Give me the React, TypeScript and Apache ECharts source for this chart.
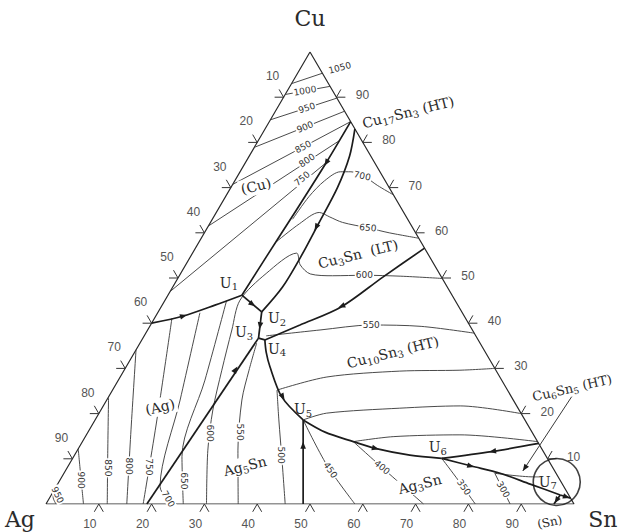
import { useEffect, useRef } from "react";
import * as echarts from "echarts";

type P = [number, number]; // [Sn at.%, Cu at.%]

// ---------- invariant points ----------
const U1: P = [14.0, 46.2];
const U2: P = [19.6, 42.5];
const U3: P = [21.9, 36.7];
const U4: P = [23.3, 36.3];
const U5: P = [39.4, 18.6];
const U6: P = [69.9, 10.1];
const U7: P = [96.4, 2.0];

// ---------- univariant (bold) lines ----------
const valleyAgCu: P[] = [[0, 40], [5.2, 41.6], [10, 44], U1];
const valleyCuBeta: P[] = [[15.4, 84.6], [15.3, 75], [14.9, 65], [14.4, 55], U1];
const valleyBetaEps: P[] = [[17, 83], [19, 77], [20.2, 70], [20.6, 62], [20.9, 55], [20.8, 48], U2];
const lineU1U2: P[] = [U1, U2];
const lineU2U3: P[] = [U2, U3];
const lineU3U4: P[] = [U3, U4];
const valleyAgZeta: P[] = [[19.1, 0], U3];
const valleyU4Edge: P[] = [U4, [28.3, 39.6], [34.1, 43.6], [38.7, 50.2], [43.4, 56.6]];
const valleyU4U5: P[] = [U4, [24.9, 33.6], [27.2, 30.4], [32.8, 23.7], U5];
const valleyU5Base: P[] = [U5, [48.7, 0]];
const valleyU5U6: P[] = [U5, [44.9, 15.9], [51.3, 13.8], [56.2, 12.3], [63.5, 10.8], U6];
const valleyEdgeU6: P[] = [[86.6, 13.4], [78.6, 11.6], U6];
const valleyU6U7: P[] = [U6, [76.4, 8.4], [82.6, 6.8], [89.5, 4.4], U7];
const valleyU7Edge: P[] = [U7, [98.7, 1.3]];
const valleyU7Base: P[] = [U7, [96.2, 0]];

// ---------- isotherms (thin) ----------
const iso1050Cu: P[] = [[0, 93], [4.7, 95.3]];
const iso1000Cu: P[] = [[0, 90.6], [7.6, 92.4]];
const iso950Cu: P[] = [[0, 85], [10.2, 89.8]];
const iso900Cu: P[] = [[0, 78.9], [13.1, 86.9]];
const iso850Cu: P[] = [[0, 70.7], [15.4, 84.6]];
const iso800Cu: P[] = [[0, 61.5], [15.3, 80.3]];
const iso750Cu: P[] = [[0, 47], [15.3, 75.5]];
const iso700: P[] = [[15.2, 63], [15.8, 68], [17, 71.5], [19, 73.5], [21, 73.5], [24, 72.5], [27.5, 70.5], [31.6, 68.4]];
const iso650: P[] = [[14.6, 58], [17, 62], [19.5, 64.5], [22, 63.5], [25, 62.3], [30.4, 61.1], [35, 60], [41.2, 58.8]];
const iso600: P[] = [[30.4, 0], [24.7, 11.9], [21.2, 20.8], [18.5, 29.6], [15.95, 38.5], [14.2, 45.1], [16.2, 51], [19.7, 55.5], [21.7, 52.9], [24.6, 50.9], [29, 50.5], [35, 50.6], [42, 50.4], [50.1, 49.9]];
const iso650Ag: P[] = [[26, 0], [20.5, 10.5], [16.4, 27.4], [11.7, 45]];
const iso700Ag: P[] = [[23.8, 0], [19.7, 3.8], [13.9, 23], [8, 42.3]];
const iso750Ag: P[] = [[18.4, 0], [11.7, 18.6], [3.3, 41.1]];
const iso800Ag: P[] = [[15.3, 0], [7.9, 16.4], [0, 34.1]];
const iso850Ag: P[] = [[11.6, 0], [5.75, 11.9], [0, 23.7]];
const iso900Ag: P[] = [[7.1, 0], [3.6, 6], [0, 12.2]];
const iso950Ag: P[] = [[1.9, 0], [0.6, 1.5], [0, 3.1]];
const iso550a: P[] = [[36.4, 0], [30.4, 11.9], [25.6, 23], [23.65, 29.6], [22.1, 35.6]];
const iso550b: P[] = [[23.1, 37.2], [32.65, 38.5], [41.8, 39.6], [51.4, 39.3], [62.2, 37.8]];
const iso500a: P[] = [[45.3, 0], [39.85, 9.7], [34.8, 18.6], [31.15, 25.2]];
const iso500b: P[] = [[31.15, 25.2], [39.15, 28.1], [52.3, 29.4], [63.6, 29.6], [70, 30]];
const iso450a: P[] = [[58.5, 0], [48.9, 8.6], [39.4, 18.6]];
const iso450b: P[] = [[39.4, 18.6], [43.1, 20.1], [56.4, 21.2], [67.6, 21.7], [80, 20]];
const iso400a: P[] = [[71.5, 0], [60.45, 7.5], [51.3, 13.8]];
const iso400b: P[] = [[51.3, 13.8], [58.3, 14.9], [70.75, 15.3], [86.2, 13.8]];
const iso350: P[] = [[81.3, 0], [75.4, 5.3], [69.9, 10.1]];
const iso300a: P[] = [[87.9, 0], [81.6, 6.8]];
const iso300b: P[] = [[81.6, 6.8], [89.3, 6], [90.6, 6]];

const boldLines: P[][] = [valleyAgCu, valleyCuBeta, valleyBetaEps, lineU1U2, lineU2U3, lineU3U4, valleyAgZeta,
  valleyU4Edge, valleyU4U5, valleyU5Base, valleyU5U6, valleyEdgeU6, valleyU6U7, valleyU7Edge, valleyU7Base];
const thinLines: P[][] = [iso1050Cu, iso1000Cu, iso950Cu, iso900Cu, iso850Cu, iso800Cu, iso750Cu, iso700, iso650, iso600,
  iso650Ag, iso700Ag, iso750Ag, iso800Ag, iso850Ag, iso900Ag, iso950Ag, iso550a, iso550b, iso500a, iso500b,
  iso450a, iso450b, iso400a, iso400b, iso350, iso300a, iso300b];

const triangle: P[] = [[0, 0], [100, 0], [0, 100], [0, 0]];
const pointerCu6Sn5: P[] = [[87.7, 23.9], [86.65, 7.3]];
const circleU7: P = [94.3, 4.87];

// arrows: [from, to] (head at middle, pointing to "to")
const arrows: [P, P][] = [
  [[4.5, 41.3], [6, 41.9]],
  [[15.35, 77], [15.3, 74]],
  [[20.5, 62.5], [20.6, 60]],
  [[16.5, 44.5], [17.5, 43.9]],
  [[20.6, 40], [21, 38.9]],
  [[20.95, 28], [21.1, 31.5]],
  [[34.8, 44.2], [33.4, 43.3]],
  [[32.5, 24.2], [33.5, 23.2]],
  [[42.7, 12], [41.7, 14]],
  [[55.5, 12.5], [57, 12.1]],
  [[79.5, 11.8], [78, 11.5]],
  [[75.5, 8.6], [77, 8.2]],
  [[97.4, 1.7], [98.2, 1.45]],
  [[96.3, 1.2], [96.25, 0.4]],
];
const pointerHeads: [P, P][] = [[[87.2, 15], [86.65, 7.3]]];

// ---------- ticks ----------
const TICKS = [10, 20, 30, 40, 50, 60, 70, 80, 90];
const EDGES = [0, 1, 2]; // 0: Sn (bottom), 1: Ag (left), 2: Cu (right)

// ---------- labels ----------
const isoLabels: [string, number, number, number][] = [
  ["1050", 7.4, 96.5, 15], ["1000", 3.35, 91.4, 10], ["950", 5.6, 87.6, 18], ["900", 7.35, 83.4, 22],
  ["850", 9.2, 79.0, 28], ["800", 11.4, 76.0, 34], ["750", 12.5, 72.0, 40],
  ["700", 23.6, 72.6, -12], ["650", 30.4, 61.1, -5], ["600", 35, 50.6, 0], ["550", 41.8, 39.6, 0],
  ["950", 1.2, 2.0, -65], ["900", 3.9, 5.3, -90], ["850", 7.7, 8.0, -90], ["800", 11.5, 8.4, -90], ["750", 15.4, 8.2, -90],
  ["700", 22.6, 1.1, -60], ["650", 23.5, 5.1, -90], ["600", 23.2, 15.7, -90], ["550", 28.7, 15.9, -90], ["500", 39.2, 10.8, -90],
  ["450", 50.1, 7.5, -55], ["400", 59.6, 8.1, -40], ["350", 77.3, 3.7, -55], ["300", 85, 3.2, -60],
];
const uLabels: [string, number, number][] = [
  ["U_1", 10.2, 48.9], ["U_2", 23.2, 41.15], ["U_3", 18.5, 38.05], ["U_4", 26.6, 34.3],
  ["U_5", 38.2, 21.0], ["U_6", 67.9, 12.6], ["U_7", 92.6, 4.9],
];
const phaseLabels: [string, number, number, number][] = [
  ["(Cu)", 4.6, 70.35, 14], ["Cu_3Sn  (LT)", 31.45, 55.3, 14], ["Cu_10Sn_3 (HT)", 48.9, 33.6, 14],
  ["(Ag)", 10.85, 21.5, 14], ["Ag_5Sn", 33.5, 8.4, 14], ["Ag_3Sn", 68.6, 4.4, 14],
  ["Cu_17Sn_3 (HT)", 25.25, 86.7, 14], ["Cu_6Sn_5 (HT)", 86.8, 25.7, 13], ["(Sn)", 97.4, -4.0, 12],
];
const elementLabels: [string, number, number][] = [["Cu", -3.75, 107.5], ["Ag", -3.2, -3.5], ["Sn", 107.2, -3.5]];

const SERIF = "'DejaVu Serif', 'Liberation Serif', serif";
const toXY = (p: P): [number, number] => [p[0] + p[1] / 2, p[1]];

const richText = (t: string) =>
  t.split(/(_\d+)/).filter(Boolean).map((s) => (s[0] === "_" ? `{s|${s.slice(1)}}` : `{n|${s}}`)).join("");
const richStyle = (size: number) => ({
  n: { fontSize: size, fontFamily: SERIF, fill: "#2b2b2b", lineHeight: size + 4, verticalAlign: "middle" },
  s: { fontSize: Math.round(size * 0.7), fontFamily: SERIF, fill: "#2b2b2b", lineHeight: size + 4, verticalAlign: "bottom" },
});

function lineSeries(pts: P[], bold: boolean) {
  return {
    type: "line", data: pts.map(toXY), symbol: "none", silent: true, animation: false,
    smooth: pts.length > 2 ? 0.3 : false, z: bold ? 4 : 3,
    lineStyle: { color: bold ? "#1c1c1c" : "#404040", width: bold ? 1.7 : 0.95 },
  };
}

function textSeries(items: any[], build: (it: any) => any, z = 10) {
  return {
    type: "custom", coordinateSystem: "cartesian2d", clip: false, silent: true, z,
    data: items.map((it) => toXY([it[1], it[2]])),
    renderItem: (params: any, api: any) => {
      const it = items[params.dataIndex];
      const c = api.coord([api.value(0), api.value(1)]);
      return { type: "text", x: c[0], y: c[1], rotation: ((it[3] as number) || 0) * Math.PI / 180, style: build(it) };
    },
  };
}

function headShape(a: number[], b: number[], atTip: boolean) {
  const dx = b[0] - a[0], dy = b[1] - a[1];
  const L = Math.hypot(dx, dy) || 1;
  const ux = dx / L, uy = dy / L, len = 7, w = 2.8;
  const tip = atTip ? [b[0], b[1]] : [(a[0] + b[0]) / 2 + ux * len / 2, (a[1] + b[1]) / 2 + uy * len / 2];
  const base = [tip[0] - ux * len, tip[1] - uy * len];
  return [tip, [base[0] - uy * w, base[1] + ux * w], [base[0] + uy * w, base[1] - ux * w]];
}

function arrowSeries(list: [P, P][], atTip: boolean) {
  return {
    type: "custom", coordinateSystem: "cartesian2d", clip: false, silent: true, z: 6,
    data: list.map(([a, b]) => [...toXY(a), ...toXY(b)]),
    renderItem: (_p: any, api: any) => {
      const a = api.coord([api.value(0), api.value(1)]);
      const b = api.coord([api.value(2), api.value(3)]);
      return { type: "polygon", shape: { points: headShape(a, b, atTip) }, style: { fill: "#1c1c1c" } };
    },
  };
}

const tickData = EDGES.flatMap((e) => TICKS.map((v) => [e, v]));
const tickSeries = {
  type: "custom", coordinateSystem: "cartesian2d", clip: false, silent: true, z: 5,
  data: tickData,
  renderItem: (params: any, api: any) => {
    const [e, v] = tickData[params.dataIndex];
    const comp: P = e === 0 ? [v, 0] : e === 1 ? [0, 100 - v] : [100 - v, v];
    const [px, py] = api.coord(toXY(comp));
    const L = 9, c = L * 0.5, s = L * Math.sqrt(3) / 2;
    let segs: number[][]; let tx: number; let ty: number;
    if (e === 0) { segs = [[px - c, py + s], [px + c, py + s]]; tx = px - 9; ty = py + 20; }
    else if (e === 1) { segs = [[px - L, py], [px - c, py - s]]; tx = px - 11; ty = py - 21; }
    else { segs = [[px + L, py], [px + c, py - s]]; tx = px + 26; ty = py - 2; }
    return {
      type: "group",
      children: [
        ...segs.map((q) => ({ type: "line", shape: { x1: px, y1: py, x2: q[0], y2: q[1] }, style: { stroke: "#333", lineWidth: 1 } })),
        { type: "text", x: tx, y: ty, style: { text: String(v), fill: "#555", font: "12px 'Liberation Sans', sans-serif", align: "center", verticalAlign: "middle" } },
      ],
    };
  },
};

const option: any = {
  animation: false,
  backgroundColor: "#fff",
  grid: { left: 46, top: 52, width: 528, height: 452, containLabel: false },
  xAxis: { type: "value", min: 0, max: 100, show: false },
  yAxis: { type: "value", min: 0, max: 100, show: false },
  series: [
    { ...lineSeries(triangle, false), lineStyle: { color: "#2a2a2a", width: 1.2 }, smooth: false },
    ...thinLines.map((l) => lineSeries(l, false)),
    ...boldLines.map((l) => lineSeries(l, true)),
    { ...lineSeries(pointerCu6Sn5, false), lineStyle: { color: "#3a3a3a", width: 1 } },
    {
      type: "scatter", data: [toXY(circleU7)], symbol: "circle", symbolSize: 47, silent: true, z: 7,
      itemStyle: { color: "rgba(0,0,0,0)", borderColor: "#111", borderWidth: 1.6 },
    },
    arrowSeries(arrows, false),
    arrowSeries(pointerHeads, true),
    tickSeries,
    textSeries(isoLabels, (it) => ({
      text: it[0], fill: "#333", font: "9px 'DejaVu Sans', sans-serif", align: "center", verticalAlign: "middle",
      backgroundColor: "#fff", padding: [0, 1],
    })),
    textSeries(uLabels, (it) => ({ text: richText(it[0]), rich: richStyle(14), align: "center", verticalAlign: "middle" })),
    textSeries(phaseLabels, (it) => ({
      text: richText(it[0]), rich: richStyle(it[3]), align: "center", verticalAlign: "middle",
      backgroundColor: "#fff", padding: [0, 2],
    })),
    textSeries(elementLabels, (it) => ({
      text: it[0], fill: "#2b2b2b", font: `22px ${SERIF}`, align: "center", verticalAlign: "middle",
    })),
  ],
};

export default function App() {
  const ref = useRef<HTMLDivElement>(null);
  useEffect(() => {
    const chart = echarts.init(ref.current!, null, { renderer: "svg" });
    chart.setOption(option);
    return () => chart.dispose();
  }, []);
  return (
    <div
      ref={ref}
      style={{ position: "fixed", left: 0, top: 0, width: 622, height: 532, background: "#fff" }}
    />
  );
}
